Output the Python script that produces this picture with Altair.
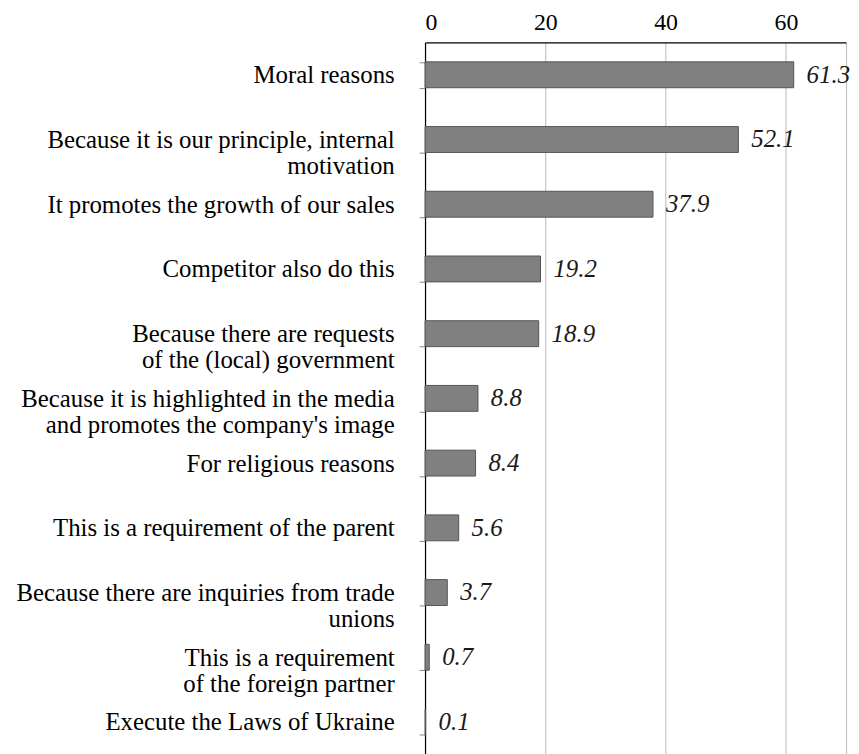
import altair as alt
import pandas as pd

categories = [
    "Moral reasons",
    "Because it is our principle, internal\nmotivation",
    "It promotes the growth of our sales",
    "Competitor also do this",
    "Because there are requests\nof the (local) government",
    "Because it is highlighted in the media\nand promotes the company's image",
    "For religious reasons",
    "This is a requirement of the parent",
    "Because there are inquiries from trade\nunions",
    "This is a requirement\nof the foreign partner",
    "Execute the Laws of Ukraine",
]
values = [61.3, 52.1, 37.9, 19.2, 18.9, 8.8, 8.4, 5.6, 3.7, 0.7, 0.1]
x_ticks = [0, 20, 40, 60, 70]

df = pd.DataFrame({"reason": categories, "pct": values})

FONT = "Liberation Serif"

y_enc = alt.Y(
    "reason:N",
    sort=categories,
    scale=alt.Scale(paddingInner=0.6, paddingOuter=0.3),
    axis=alt.Axis(
        title=None,
        labelExpr="split(datum.label, '\\n')",
        labelFont=FONT,
        labelFontSize=25,
        labelColor="#000000",
        labelLineHeight=26,
        labelPadding=25,
        labelLimit=600,
        labelAlign="right",
        domainColor="#000000",
        domainWidth=1.2,
        tickColor="#888888",
        tickSize=6,
        tickBand="extent",
        grid=False,
    ),
)

x_enc = alt.X(
    "pct:Q",
    scale=alt.Scale(domain=[0, 70], nice=False),
    axis=alt.Axis(
        orient="top",
        title=None,
        values=x_ticks,
        labelExpr="datum.value == 70 ? '' : datum.label",
        labelFont=FONT,
        labelFontSize=24,
        labelColor="#000000",
        labelPadding=8,
        ticks=False,
        domainColor="#000000",
        domainWidth=1.2,
        grid=True,
        gridColor="#c4c4c4",
        gridWidth=1.2,
    ),
)

bars = alt.Chart(df).mark_bar(
    color="#808080", stroke="#555555", strokeWidth=1
).encode(x=x_enc, y=y_enc)

labels = alt.Chart(df).mark_text(
    align="left", baseline="middle", dx=13, font=FONT, fontSize=25,
    fontStyle="italic", color="#1a1a1a"
).encode(
    x=alt.X("pct:Q"),
    y=alt.Y("reason:N", sort=categories),
    text=alt.Text("pct:Q", format=".1f"),
)

chart = (
    alt.layer(bars, labels)
    .properties(width=424, height=717, padding={"left": 7, "top": 0, "right": 0, "bottom": 0})
    .configure_view(stroke=None)
)

chart.save("out.html", embed_options={"renderer": "svg", "actions": False})
